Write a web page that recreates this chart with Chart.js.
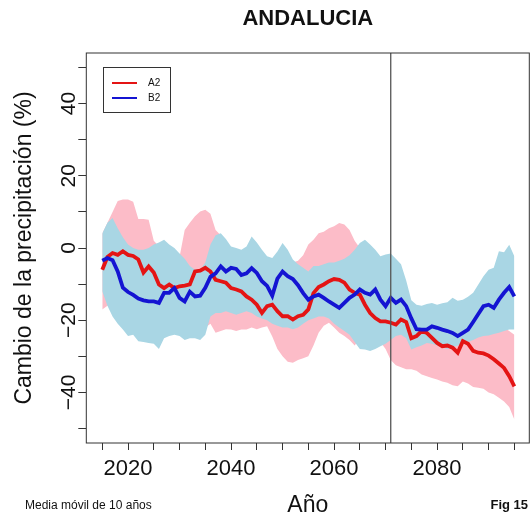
<!DOCTYPE html>
<html>
<head>
<meta charset="utf-8">
<script src="https://cdn.jsdelivr.net/npm/chart.js@4"></script>
<style>
  html, body { margin: 0; padding: 0; background: #fff; }
  #wrap { width: 531px; height: 519px; }
</style>
</head>
<body>
<div id="wrap"><canvas id="chart" width="531" height="519"></canvas></div>
<script>
// años (media móvil de 10 años)
const years = Array.from({ length: 81 }, (_, i) => 2015 + i);

// A2 - media
const a2Mean = [
  -6, -2.5, -1.4, -1.9, -0.9, -1.9, -2.2, -3.2, -6.8, -5.1,
  -6.8, -10.1, -11.1, -10.1, -11.1, -10.6, -10.4, -10.1, -6.5, -6.3,
  -5.5, -6.5, -8.8, -9.2, -9.6, -11.1, -11.5, -12.0, -13.4, -14.3,
  -15.7, -18.0, -16.1, -15.7, -17.5, -18.9, -18.9, -19.8, -18.9, -18.5,
  -17.0, -12.5, -10.8, -10.1, -9.2, -8.6, -8.8, -9.6, -11.5, -12.4,
  -12.9, -15.7, -18.0, -19.4, -20.3, -20.3, -20.7, -21.2, -19.8, -20.5,
  -25.0, -24.4, -23.0, -23.5, -24.9, -26.3, -27.2, -27.0, -27.6, -29.0,
  -25.8, -26.5, -28.5, -29.0, -29.2, -29.8, -30.8, -32.0, -33.2, -35.5, -38.3
];
// B2 - media
const b2Mean = [
  -3.5, -2.8, -3.4, -6.5, -11, -12.2, -13, -14, -14.5, -14.8,
  -14.8, -15.2, -12.4, -12.4, -11.1, -13.8, -14.8, -12.1, -13.4, -13.2,
  -11, -8, -7, -5.1, -6.5, -5.5, -5.8, -7.5, -7, -5.6,
  -6.9, -9.2, -10.5, -13.2, -8.5, -6.5, -7.8, -8.6, -10.3, -12.5,
  -14.3, -13.4, -12.9, -13.8, -14.8, -15.7, -16.6, -15.2, -13.8, -12.9,
  -11.5, -12.4, -12.9, -11.5, -14.3, -16.1, -13.8, -15.2, -14.3, -16.1,
  -19.5, -22.5, -22.6, -22.6, -21.7, -22.1, -22.6, -23.0, -23.5, -24.4,
  -23.5, -22.6, -20.5, -18.3, -16.1, -15.7, -16.6, -14.3, -12.4, -10.8, -13.4
];
// A2 - rango (superior / inferior)
const a2Hi = [
  4, 7, 10, 13, 13.4, 13.4, 12.8, 8, 8, 7.8,
  2, 0.5, 0, -1, -2, -2.5, 5, 7, 8.8, 10.1,
  10.6, 9.5, 5, 3.5, -1, -1, -2, -1.5, -1, -2.5,
  -3, -2, -3.5, -4, -3, -2, -3, -4, -3.5, -2,
  1, 2.3, 4.1, 4.5, 5.5, 6, 6.9, 6.5, 5, 2,
  0, -2, -3, -4, -5, -6, -7, -10, -12, -14,
  -15, -16, -17, -17, -18, -18, -19, -19, -20, -20,
  -20, -19, -19, -19, -20, -21, -21, -22, -22, -23, -24
];
const a2Lo = [
  -17, -16, -16, -17, -17, -18, -18, -19, -19, -20,
  -20, -21, -21, -20, -20, -21, -21, -21, -22, -22,
  -22, -21, -23.5, -23, -22.5, -22.6, -23, -22.6, -22.6, -22,
  -22.5, -22, -21.7, -24.5, -28, -30, -31.5, -31.8, -31, -30.5,
  -30, -27, -23.5, -21.5, -20.7, -22, -23.5, -24.4, -25.5, -27,
  -25, -24, -24, -25, -26, -28, -31, -32.5, -33, -33.6,
  -33.6, -34, -35, -35.5, -36, -36.4, -37, -37.3, -38, -38.3,
  -37, -37.5, -38.5, -38.7, -39, -40, -40.5, -41.5, -42.5, -44, -47.5
];
// B2 - rango (superior / inferior)
const b2Hi = [
  4, 7, 8.3, 5.5, 3, 1, 0, -0.5, -0.5, 0,
  1, 1.5, 2.3, 1, 0, -1.5, -3, -5, -6, -6,
  -4, 1, 3.5, 4.1, 2.5, 0.4, 0, -0.5, 0.4, 3.2,
  1.5, -0.5, -2.3, -2.8, -1, 1.4, -0.5, -3.2, -4.5, -5.5,
  -6.5, -5, -5, -4.5, -4, -4, -3.5, -3, -2, -0.5,
  1.4, 2.3, 1, -0.5, -2.3, -1.8, -1.5, -3, -4.5, -9,
  -14.5, -15.7, -16, -15.5, -15.2, -15.7, -15.3, -15, -13.8, -14.6,
  -14.3, -13.5, -12.4, -10.1, -7.8, -6.0, -5.5, -0.9, -1.2, 0.9, -2.3
];
const b2Lo = [
  -12, -16, -19, -21, -22.6, -24.4, -24, -25.8, -26, -26.3,
  -26.5, -28, -25, -24.4, -24, -24.4, -25.5, -25, -25, -25.5,
  -24, -19, -18, -18, -17.5, -18, -18.5, -18, -17.5, -18,
  -19, -19.5, -20, -21, -21.5, -22, -22, -22.5, -22, -21,
  -20, -19.5, -19, -19, -19.5, -21, -22, -23, -24, -26,
  -28, -28.1, -28.5, -28, -27.2, -26.5, -25.5, -24.4, -24, -25,
  -28.1, -27.5, -27, -26.3, -26.5, -27, -27.5, -28, -27.5, -27,
  -26.5, -26, -25.5, -24.8, -24.4, -24.2, -23.8, -23.5, -23, -22.6, -22.6
];

const xTicks = [2015, 2020, 2025, 2030, 2035, 2040, 2045, 2050, 2055, 2060, 2065, 2070, 2075, 2080, 2085, 2090, 2095];
const yTicks = [-50, -40, -30, -20, -10, 0, 10, 20, 30, 40, 50];
const yLabels = [-40, -20, 0, 20, 40];
const markYear = 2071;

const FONT = "'Liberation Sans', Arial, Helvetica, sans-serif";
const RED = "#e41414";
const BLUE = "#1414d2";
const PINK = "#fcbcc8";
const LIGHTBLUE = "#a9d6e4";

const pts = (arr) => arr.map((v, i) => ({ x: years[i], y: v }));

// marco, línea vertical, textos y leyenda
const decorPlugin = {
  id: "decor",
  afterDraw: (chart) => {
    const { ctx, chartArea: a, scales: { x, y } } = chart;
    ctx.save();

    // línea vertical
    const xv = x.getPixelForValue(markYear);
    ctx.strokeStyle = "#555";
    ctx.lineWidth = 1.3;
    ctx.beginPath();
    ctx.moveTo(xv, a.top);
    ctx.lineTo(xv, a.bottom);
    ctx.stroke();

    // caja
    ctx.strokeStyle = "#333";
    ctx.lineWidth = 1;
    ctx.strokeRect(a.left, a.top, a.right - a.left, a.bottom - a.top);

    ctx.fillStyle = "#111";
    const cx = (a.left + a.right) / 2;
    const cy = (a.top + a.bottom) / 2;

    // título
    ctx.font = "bold 22px " + FONT;
    ctx.textAlign = "center";
    ctx.textBaseline = "alphabetic";
    ctx.fillText("ANDALUCIA", cx, 25);

    // etiquetas eje y (giradas)
    ctx.font = "21px " + FONT;
    yLabels.forEach((v) => {
      ctx.save();
      ctx.translate(75, y.getPixelForValue(v));
      ctx.rotate(-Math.PI / 2);
      ctx.fillText(v < 0 ? "\u2212" + Math.abs(v) : String(v), 0, 0);
      ctx.restore();
    });

    // título eje y
    ctx.save();
    ctx.translate(31, cy);
    ctx.rotate(-Math.PI / 2);
    ctx.font = "23px " + FONT;
    ctx.fillText("Cambio de la precipitación (%)", 0, 0);
    ctx.restore();

    // título eje x
    ctx.font = "23px " + FONT;
    ctx.fillText("Año", cx, 512);

    // notas
    ctx.font = "12px " + FONT;
    ctx.textAlign = "left";
    ctx.fillText("Media móvil de 10 años", 25, 509);
    ctx.font = "bold 13px " + FONT;
    ctx.textAlign = "right";
    ctx.fillText("Fig 15", 528, 509);

    // leyenda
    ctx.strokeStyle = "#333";
    ctx.lineWidth = 1;
    ctx.strokeRect(103.5, 67.5, 67, 45);
    ctx.lineWidth = 2;
    ctx.strokeStyle = RED;
    ctx.beginPath(); ctx.moveTo(112, 83); ctx.lineTo(137, 83); ctx.stroke();
    ctx.strokeStyle = BLUE;
    ctx.beginPath(); ctx.moveTo(112, 98); ctx.lineTo(137, 98); ctx.stroke();
    ctx.font = "10px " + FONT;
    ctx.textAlign = "left";
    ctx.textBaseline = "middle";
    ctx.fillText("A2", 148, 83);
    ctx.fillText("B2", 148, 98);

    ctx.restore();
  },
};

const band = (data, color, fill, order) => ({
  data: pts(data),
  borderWidth: 0,
  borderColor: color,
  backgroundColor: color,
  pointRadius: 0,
  fill: fill,
  tension: 0,
  order: order,
});

new Chart(document.getElementById("chart"), {
  type: "line",
  data: {
    datasets: [
      band(a2Hi, PINK, "+1", 4),
      band(a2Lo, PINK, false, 4),
      band(b2Hi, LIGHTBLUE, "+1", 3),
      band(b2Lo, LIGHTBLUE, false, 3),
      { label: "A2", data: pts(a2Mean), borderColor: RED, borderWidth: 3.8, pointRadius: 0, fill: false, tension: 0, order: 2 },
      { label: "B2", data: pts(b2Mean), borderColor: BLUE, borderWidth: 3.8, pointRadius: 0, fill: false, tension: 0, order: 1 },
    ],
  },
  plugins: [decorPlugin],
  options: {
    responsive: false,
    animation: false,
    devicePixelRatio: 1,
    layout: { padding: { top: 53, right: 1.7, left: 0, bottom: 0 } },
    plugins: {
      legend: { display: false },
      tooltip: { enabled: false },
      title: { display: false },
    },
    scales: {
      x: {
        type: "linear",
        min: 2011.9,
        max: 2097.9,
        afterBuildTicks: (scale) => { scale.ticks = xTicks.map((v) => ({ value: v })); },
        afterFit: (scale) => { scale.height = 76; },
        border: { display: false },
        grid: { drawOnChartArea: false, drawTicks: true, tickLength: 7, color: "#333" },
        ticks: {
          autoSkip: false,
          maxRotation: 0,
          padding: 6,
          color: "#111",
          font: { size: 22, family: FONT },
          callback: (v) => (v % 20 === 0 ? String(v) : ""),
        },
      },
      y: {
        type: "linear",
        min: -54,
        max: 54,
        afterBuildTicks: (scale) => { scale.ticks = yTicks.map((v) => ({ value: v })); },
        afterFit: (scale) => { scale.width = 86.3; },
        border: { display: false },
        grid: { drawOnChartArea: false, drawTicks: true, tickLength: 8, color: "#333" },
        ticks: { display: false },
      },
    },
  },
});
</script>
</body>
</html>
